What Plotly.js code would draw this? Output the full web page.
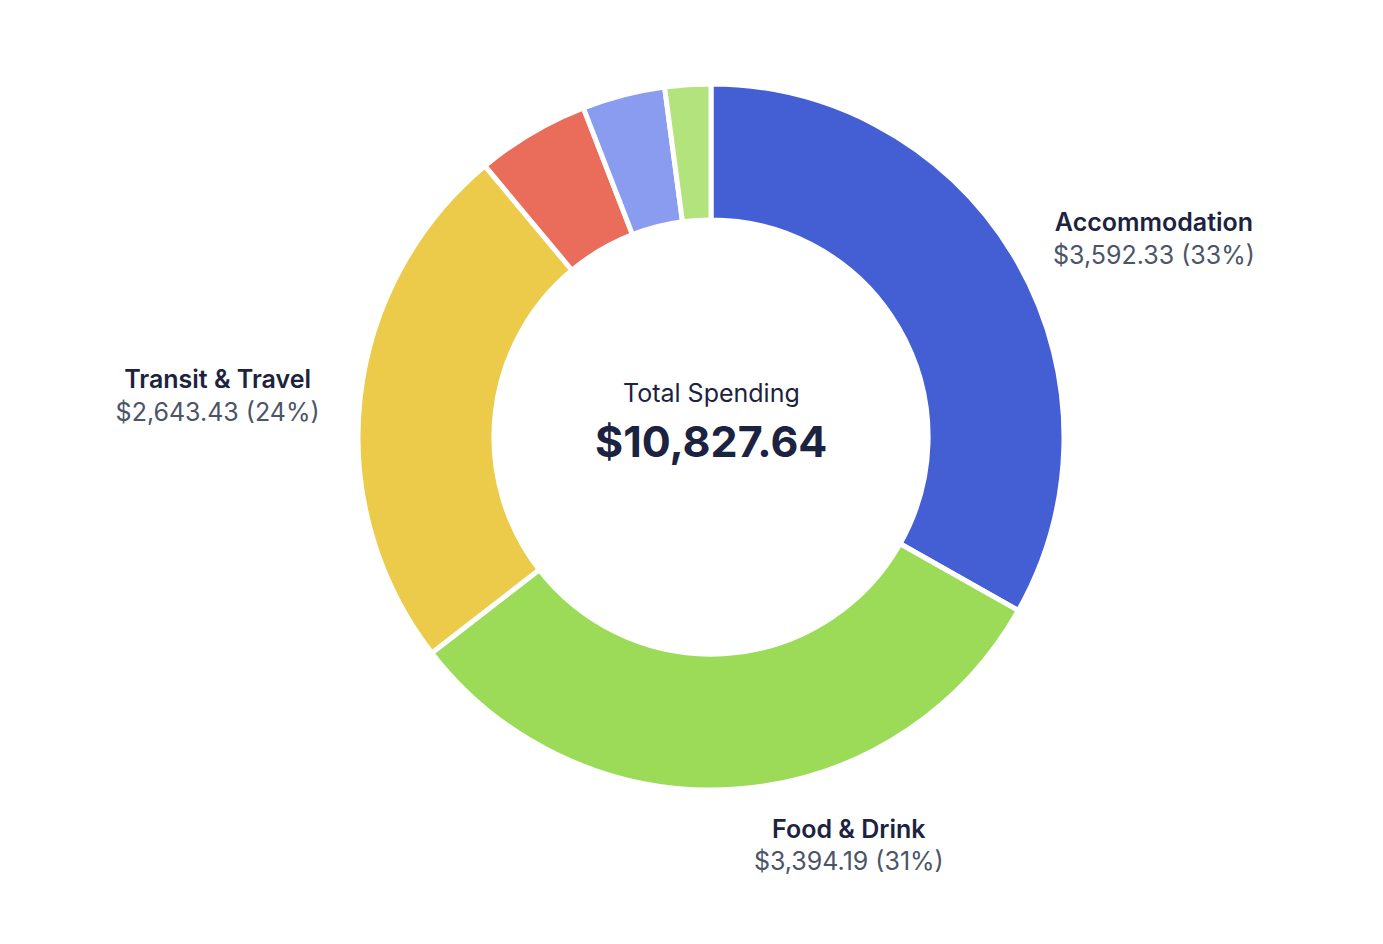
<!DOCTYPE html>
<html>
<head>
<meta charset="utf-8">
<script src="https://cdn.plot.ly/plotly-3.0.1.min.js"></script>
<style>html,body{margin:0;padding:0;background:#fff;}#chart{width:1383px;height:944px;}</style>
</head>
<body>
<div id="chart"></div>
<script>
const categories = ["Accommodation", "Food & Drink", "Transit & Travel", "Activities", "Shopping", "Other"];
const amounts = [3592.33, 3394.19, 2643.43, 560.12, 410.40, 227.17];
const sliceColors = ["#445FD4", "#9BDB58", "#ECCA4A", "#E96D5A", "#8A9CF0", "#B2E37D"];
const showLabel = [true, true, true, false, false, false];
const centerTitle = "Total Spending";

const total = amounts.reduce((a, b) => a + b, 0);
const fmt = v => "$" + v.toLocaleString("en-US", {minimumFractionDigits: 2, maximumFractionDigits: 2});
const texts = categories.map((c, i) => showLabel[i]
  ? c + "<br><span style='color:#4B5567;font-weight:400'>" + fmt(amounts[i]) + " (" + Math.round(amounts[i] / total * 100) + "%)</span>"
  : "");

const data = [
  {
    type: "pie",
    labels: categories,
    values: amounts,
    textinfo: "none",
    hole: 0.615,
    sort: false,
    direction: "clockwise",
    rotation: 0,
    domain: {x: [0, 1], y: [25 / 756, 731 / 756]},
    marker: {colors: sliceColors, line: {color: "#ffffff", width: 5}},
    showlegend: false,
    hoverinfo: "label+value+percent"
  },
  {
    type: "pie",
    labels: categories,
    values: amounts,
    text: texts,
    textinfo: "text",
    textposition: "outside",
    hole: 0.9,
    sort: false,
    direction: "clockwise",
    rotation: 0,
    domain: {x: [0, 1], y: [0, 1]},
    marker: {colors: categories.map(() => "rgba(0,0,0,0)"), line: {width: 0}},
    outsidetextfont: {family: "Inter, sans-serif", size: 25, color: "#1C2340", weight: 600},
    showlegend: false,
    hoverinfo: "skip"
  }
];

const layout = {
  width: 1383, height: 944,
  margin: {l: 39, r: 0, t: 59, b: 129},
  paper_bgcolor: "#ffffff",
  showlegend: false,
  annotations: [
    {x: 0.5, y: 0.5, xref: "paper", yref: "paper", text: centerTitle, showarrow: false,
     yshift: 44, font: {family: "Inter, sans-serif", size: 25, color: "#1C2340"}},
    {x: 0.5, y: 0.5, xref: "paper", yref: "paper", text: fmt(total), showarrow: false,
     yshift: -4, font: {family: "Inter, sans-serif", size: 43, color: "#1C2340", weight: 700}}
  ]
};

Plotly.newPlot("chart", data, layout, {displayModeBar: false, staticPlot: true});
</script>
</body>
</html>
